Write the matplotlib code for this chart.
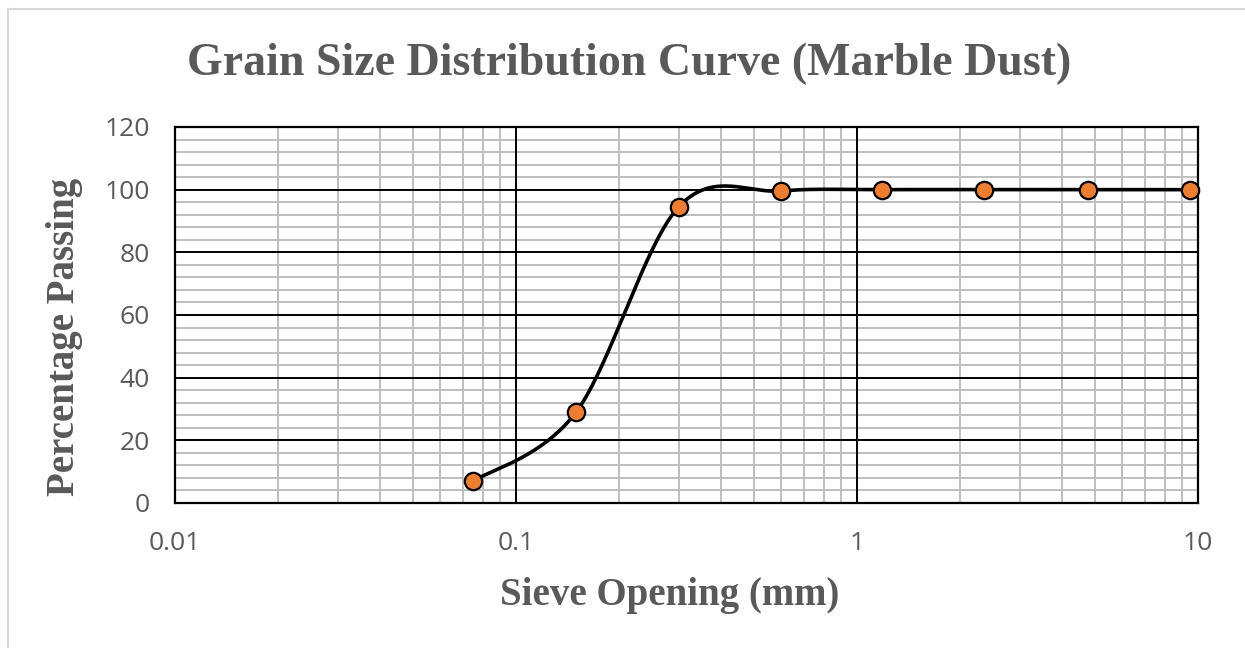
import numpy as np
import matplotlib
matplotlib.use('Agg')
from matplotlib import pyplot as plt
from matplotlib.ticker import LogLocator, MultipleLocator, FixedLocator, FixedFormatter
from matplotlib.lines import Line2D

# sieve data
sieve_mm = [0.075, 0.15, 0.3, 0.6, 1.18, 2.36, 4.75, 9.5]
passing = [7, 29, 94.5, 99.6, 100, 100, 100, 100]

x_ticks = [0.01, 0.1, 1, 10]
x_tick_labels = ['0.01', '0.1', '1', '10']
y_ticks = [0, 20, 40, 60, 80, 100, 120]

title_txt = 'Grain Size Distribution Curve (Marble Dust)'
xlabel_txt = 'Sieve Opening (mm)'
ylabel_txt = 'Percentage Passing'

gray_txt = '#595959'
orange = '#ED7D31'


def smooth_curve(xs, ys, n=40):
    # Excel style smoothed line (catmull-rom through the points), in log-x space
    lx = np.log10(xs)
    ys = np.array(ys, dtype=float)
    px = np.concatenate([[lx[0]], lx, [lx[-1]]])
    py = np.concatenate([[ys[0]], ys, [ys[-1]]])
    out_x, out_y = [], []
    t = np.linspace(0, 1, n)
    for i in range(1, len(px) - 2):
        p0 = np.array([px[i - 1], py[i - 1]])
        p1 = np.array([px[i], py[i]])
        p2 = np.array([px[i + 1], py[i + 1]])
        p3 = np.array([px[i + 2], py[i + 2]])
        c1 = p1 + (p2 - p0) / 6
        c2 = p2 - (p3 - p1) / 6
        pts = ((1 - t) ** 3)[:, None] * p1 + (3 * (1 - t) ** 2 * t)[:, None] * c1 \
            + (3 * (1 - t) * t ** 2)[:, None] * c2 + (t ** 3)[:, None] * p2
        out_x.extend(pts[:, 0])
        out_y.extend(pts[:, 1])
    return 10 ** np.array(out_x), np.array(out_y)


fig = plt.figure(figsize=(12.45, 6.48), dpi=100)
ax = fig.add_axes([175 / 1245, 1 - 503 / 648, (1198 - 175) / 1245, (503 - 127) / 648])

# chart area border (light gray, like the spreadsheet frame)
fig.add_artist(Line2D([8 / 1245, 1], [1 - 9 / 648, 1 - 9 / 648], color='#D9D9D9', lw=1.5))
fig.add_artist(Line2D([8 / 1245, 8 / 1245], [0, 1 - 9 / 648], color='#D9D9D9', lw=1.5))

ax.set_xscale('log')
ax.set_xlim(0.01, 10)
ax.set_ylim(0, 120)

ax.xaxis.set_major_locator(FixedLocator(x_ticks))
ax.xaxis.set_major_formatter(FixedFormatter(x_tick_labels))
ax.xaxis.set_minor_locator(LogLocator(base=10, subs=np.arange(2, 10)))
ax.xaxis.set_minor_formatter(plt.NullFormatter())
ax.yaxis.set_major_locator(FixedLocator(y_ticks))
ax.yaxis.set_minor_locator(MultipleLocator(4))

# minor grid from the axis, major lines drawn on top of it
ax.grid(True, which='minor', color='#BFBFBF', lw=1.4)
ax.set_axisbelow(True)
for xv in x_ticks:
    ax.axvline(xv, color='black', lw=1.4, zorder=1)
for yv in y_ticks:
    ax.axhline(yv, color='black', lw=1.4, zorder=1)

ax.tick_params(which='both', length=0)
ax.tick_params(axis='x', labelsize=19, labelcolor=gray_txt, pad=20)
ax.tick_params(axis='y', labelsize=19, labelcolor=gray_txt, pad=18)
for lab in ax.get_xticklabels() + ax.get_yticklabels():
    lab.set_fontfamily('Open Sans')

for sp in ax.spines.values():
    sp.set_color('black')
    sp.set_linewidth(1.6)
    sp.set_zorder(2)

sx, sy = smooth_curve(sieve_mm, passing)
ax.plot(sx, sy, color='black', lw=2.6, zorder=3, clip_on=False)
ax.plot(sieve_mm, passing, 'o', color=orange, markeredgecolor='black',
        markeredgewidth=1.6, markersize=12.5, zorder=4, clip_on=False)

fig.text(0.5 * (192 + 1066) / 1245, 1 - 64 / 648, title_txt, ha='center', va='center',
         fontsize=33, fontweight='bold', family='Liberation Serif', color=gray_txt)
fig.text(0.5 * (500 + 840) / 1245, 1 - 596 / 648, xlabel_txt, ha='center', va='center',
         fontsize=28, fontweight='bold', family='Liberation Serif', color=gray_txt)
fig.text(65 / 1245, 1 - 337 / 648, ylabel_txt, ha='center', va='center', rotation=90,
         fontsize=28, fontweight='bold', family='Liberation Serif', color=gray_txt)

fig.savefig('out.png', dpi=100)
